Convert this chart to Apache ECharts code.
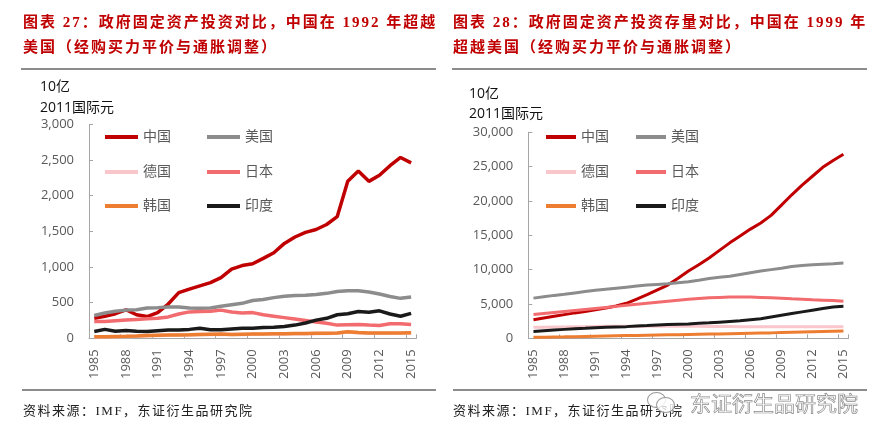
<!DOCTYPE html>
<html><head><meta charset="utf-8">
<script src="https://cdn.jsdelivr.net/npm/echarts@6/dist/echarts.min.js"></script>
<style>
html,body{margin:0;padding:0;background:#fff;}
#wrap{position:relative;width:892px;height:441px;overflow:hidden;background:#fff;}
#chart{position:absolute;left:0;top:0;width:892px;height:441px;}
.t{position:absolute;color:#C00000;font-family:"Liberation Serif","Noto Sans CJK SC",serif;font-weight:bold;font-size:15px;letter-spacing:2px;line-height:25px;white-space:nowrap;z-index:2;}
.rule{position:absolute;height:2px;background:#8c8c8c;z-index:2;}
.src{position:absolute;font-family:"Liberation Serif","Noto Sans CJK SC",serif;font-size:13px;letter-spacing:1.5px;color:#222;white-space:nowrap;z-index:2;line-height:16px;}
.wm{position:absolute;font-family:"Noto Sans CJK SC",sans-serif;font-size:21px;color:#fff;-webkit-text-stroke:0.7px #8a8a8a;white-space:nowrap;z-index:3;line-height:24px;}
.ic{position:absolute;border:1.2px solid #9a9a9a;border-radius:50%;background:rgba(255,255,255,0.8);z-index:3;}
</style>
</head><body>
<div id="wrap">
<div id="chart"></div>
<div class="t" style="left:23px;top:10px;">图表 27：政府固定资产投资对比，中国在 1992 年超越<br>美国（经购买力平价与通胀调整）</div>
<div class="t" style="left:453px;top:10px;">图表 28：政府固定资产投资存量对比，中国在 1999 年<br>超越美国（经购买力平价与通胀调整）</div>
<div class="rule" style="left:21px;top:68px;width:415px;"></div>
<div class="rule" style="left:452px;top:68px;width:415px;"></div>
<div class="rule" style="left:22px;top:389px;width:414px;"></div>
<div class="rule" style="left:453px;top:389px;width:414px;"></div>
<div class="src" style="left:23px;top:403px;">资料来源：IMF，东证衍生品研究院</div>
<div class="src" style="left:453px;top:403px;">资料来源：IMF，东证衍生品研究院</div>
<div class="ic" style="left:647px;top:392px;width:17px;height:14px;"></div>
<div class="ic" style="left:656px;top:397px;width:17px;height:14px;"></div>
<div class="wm" style="left:690px;top:390px;">东证衍生品研究院</div>
</div>
<script>
const years = ['1985','1986','1987','1988','1989','1990','1991','1992','1993','1994','1995','1996','1997','1998','1999','2000','2001','2002','2003','2004','2005','2006','2007','2008','2009','2010','2011','2012','2013','2014','2015'];
const seriesNames = ['中国','美国','德国','日本','韩国','印度'];
const seriesColors = ['#C00000','#8C8C8C','#F8C6CB','#F26B6E','#ED7D31','#1A1A1A'];

// 图表27：政府固定资产投资（10亿 2011国际元）
const leftChina   = [280,310,345,400,330,305,360,480,640,690,735,780,850,970,1020,1045,1120,1200,1330,1420,1485,1525,1595,1705,2200,2345,2200,2285,2420,2535,2460];
const leftUS      = [320,355,380,395,400,425,430,440,440,425,420,425,450,470,490,530,545,570,590,600,605,615,630,655,665,665,650,620,585,560,580];
const leftGermany = [18,20,22,25,30,35,40,43,46,48,52,55,57,53,55,57,60,62,62,65,65,67,69,72,88,77,72,72,72,73,75];
const leftJapan   = [235,235,245,255,265,275,280,300,340,370,375,380,395,370,355,360,330,310,290,270,250,230,210,185,190,195,185,180,205,205,195];
const leftKorea   = [20,22,25,28,32,38,42,45,48,50,55,58,60,55,58,60,62,65,65,68,68,70,72,75,92,80,75,75,75,76,78];
const leftIndia   = [95,125,100,110,100,95,105,115,115,125,140,120,120,130,140,140,150,155,165,185,215,255,280,330,345,375,365,385,340,310,350];

// 图表28：政府固定资产投资存量（10亿 2011国际元）
const rightChina   = [2700,2950,3200,3450,3700,3900,4150,4400,4700,5100,5700,6350,7050,7750,8750,9800,10700,11700,12800,13900,14900,15900,16800,17900,19400,20900,22300,23600,24900,25900,26800];
const rightUS      = [5850,6050,6250,6400,6600,6800,7000,7150,7300,7450,7600,7750,7850,7950,8100,8250,8450,8700,8900,9050,9300,9550,9800,10000,10200,10450,10600,10700,10800,10850,10950];
const rightGermany = [1600,1620,1640,1660,1680,1700,1720,1740,1750,1760,1760,1760,1750,1750,1750,1750,1740,1730,1720,1710,1700,1700,1700,1700,1700,1700,1700,1700,1700,1700,1700];
const rightJapan   = [3450,3600,3750,3900,4050,4200,4350,4500,4650,4800,4950,5100,5250,5400,5550,5700,5800,5900,5950,6000,6000,6000,5950,5900,5850,5750,5700,5600,5550,5500,5400];
const rightKorea   = [150,170,190,210,240,270,300,330,360,390,420,450,480,500,520,550,580,610,640,670,700,730,760,790,830,870,910,950,990,1030,1070];
const rightIndia   = [1000,1100,1200,1300,1400,1450,1550,1600,1650,1700,1800,1850,1950,2000,2050,2100,2200,2250,2350,2450,2550,2700,2850,3100,3350,3600,3850,4100,4350,4550,4650];

const leftData = [leftChina, leftUS, leftGermany, leftJapan, leftKorea, leftIndia];
const rightData = [rightChina, rightUS, rightGermany, rightJapan, rightKorea, rightIndia];
const drawOrder = [2,0,1,3,4,5];

const FONT = '"Open Sans","Noto Sans CJK SC",sans-serif';
const axisGray = '#a6a6a6';
const labelGray = '#595959';

function xAxisFor(gi){
  return {
    type:'category', gridIndex:gi, data:years, boundaryGap:true,
    axisLine:{show:true,lineStyle:{color:axisGray,width:1}},
    axisTick:{show:true,inside:true,length:4,interval:2,lineStyle:{color:axisGray}},
    axisLabel:{interval:2,rotate:90,margin:11,fontSize:13,color:labelGray,fontFamily:FONT},
    splitLine:{show:false}
  };
}
function yAxisFor(gi,max,step){
  return {
    type:'value', gridIndex:gi, min:0, max:max, interval:step,
    axisLine:{show:true,lineStyle:{color:axisGray,width:1}},
    axisTick:{show:true,inside:true,length:4,lineStyle:{color:axisGray}},
    axisLabel:{margin:15,fontSize:13,color:labelGray,fontFamily:FONT,
      formatter:function(v){return v.toLocaleString('en-US');}},
    splitLine:{show:false}
  };
}
const series = [];
drawOrder.forEach(function(k){
  series.push({name:seriesNames[k],type:'line',xAxisIndex:0,yAxisIndex:0,data:leftData[k],
    symbol:'none',color:seriesColors[k],lineStyle:{color:seriesColors[k],width:3.5},z:2+k});
});
drawOrder.forEach(function(k){
  series.push({name:seriesNames[k],type:'line',xAxisIndex:1,yAxisIndex:1,data:rightData[k],
    symbol:'none',color:seriesColors[k],lineStyle:{color:seriesColors[k],width:3},z:2+k});
});

function legendRow(names,left,cy,w,gap){
  return {data:names,left:left,top:cy-2,orient:'horizontal',icon:'rect',itemWidth:w,itemHeight:4,
    itemGap:gap,padding:0,selectedMode:false,
    textStyle:{fontSize:14,color:labelGray,fontFamily:FONT,padding:[0,0,0,0]}};
}
const legends = [
  legendRow([seriesNames[0],seriesNames[1]],105,132,33,36),
  legendRow([seriesNames[2],seriesNames[3]],105,167,33,36),
  legendRow([seriesNames[4],seriesNames[5]],105,201,33,36),
  legendRow([seriesNames[0],seriesNames[1]],546,132,30,27),
  legendRow([seriesNames[2],seriesNames[3]],546,167,30,27),
  legendRow([seriesNames[4],seriesNames[5]],546,201,30,27)
];

const chart = echarts.init(document.getElementById('chart'),null,{renderer:'canvas'});
chart.setOption({
  animation:false,
  backgroundColor:'#fff',
  grid:[{left:89,right:475.6,top:124.3,bottom:102.7},{left:528.3,right:43.4,top:132.3,bottom:102.7}],
  xAxis:[xAxisFor(0),xAxisFor(1)],
  yAxis:[yAxisFor(0,3000,500),yAxisFor(1,30000,5000)],
  legend:legends,
  series:series,
  graphic:[
    {type:'text',x:40,y:87,style:{text:'10亿',fontSize:14,fill:'#111',fontFamily:FONT,verticalAlign:'middle'}},
    {type:'text',x:40,y:108,style:{text:'2011国际元',fontSize:14,fill:'#111',fontFamily:FONT,verticalAlign:'middle'}},
    {type:'text',x:469,y:94,style:{text:'10亿',fontSize:14,fill:'#111',fontFamily:FONT,verticalAlign:'middle'}},
    {type:'text',x:469,y:114,style:{text:'2011国际元',fontSize:14,fill:'#111',fontFamily:FONT,verticalAlign:'middle'}}
  ]
});
</script>
</body></html>
